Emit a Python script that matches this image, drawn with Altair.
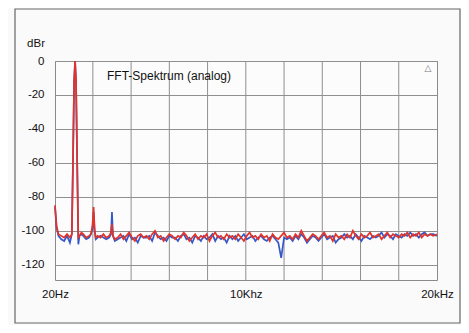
import altair as alt
import pandas as pd

# ---- data (frequency in kHz, level in dBr) ----
low_freq_khz = [0.02, 0.1, 0.2, 0.35, 0.5, 0.65, 0.8, 0.9, 0.96, 1.02, 1.07, 1.12, 1.18,
                1.24, 1.3, 1.4, 1.5, 1.65, 1.8, 1.9, 1.98, 2.04, 2.09, 2.15, 2.25, 2.4,
                2.55, 2.7, 2.85, 2.95, 3.0, 3.05, 3.15]
low_red_db = [-85, -97, -102, -103, -104, -102, -104, -102, -60, -12, 0, -12, -60,
              -104, -103, -101, -102, -104, -103, -102, -97, -86, -99, -104, -103, -104,
              -102, -104, -103, -101, -96, -103, -105]
low_blue_db = [-86, -98, -103, -105, -106, -103, -107, -102, -60, -12, 0, -12, -60,
               -108, -103, -102, -103, -105, -104, -102, -99, -89, -100, -105, -104, -103,
               -104, -105, -104, -102, -89, -103, -106]

# noise floor: FFT bins from 3.3 kHz every 0.15 kHz up to 19.8 kHz, then 20 kHz
noise_bin_start_khz = 3.3
noise_bin_step_khz = 0.15
noise_red_db = [
    -104, -102, -105, -103, -101, -104, -106, -103, -102, -104,
    -103, -105, -102, -100, -104, -103, -106, -104, -102, -103,
    -105, -103, -104, -101, -103, -106, -104, -102, -105, -103,
    -104, -102, -106, -103, -101, -104, -103, -105, -102, -104,
    -103, -105, -102, -104, -106, -103, -101, -104, -103, -105,
    -102, -104, -103, -106, -102, -104, -105, -103, -101, -104,
    -103, -105, -102, -104, -100, -103, -106, -104, -102, -103,
    -105, -103, -101, -104, -103, -106, -102, -104, -103, -105,
    -102, -104, -100, -103, -105, -102, -104, -103, -101, -104,
    -103, -102, -105, -103, -101, -104, -102, -103, -104, -102,
    -103, -101, -104, -102, -103, -101, -104, -102, -103, -102,
    -103, -102,
]
noise_blue_db = [
    -105, -104, -103, -106, -102, -105, -104, -107, -103, -104,
    -104, -103, -106, -101, -103, -105, -104, -106, -103, -104,
    -104, -106, -103, -102, -105, -104, -107, -103, -104, -106,
    -103, -105, -104, -102, -106, -103, -105, -104, -107, -103,
    -105, -103, -106, -104, -102, -105, -104, -103, -106, -104,
    -103, -105, -106, -104, -103, -105, -107, -116, -104, -105,
    -104, -106, -103, -105, -102, -104, -107, -105, -103, -104,
    -106, -104, -102, -105, -104, -103, -107, -105, -104, -102,
    -104, -103, -105, -102, -104, -106, -103, -104, -105, -103,
    -104, -103, -101, -104, -102, -103, -105, -102, -103, -104,
    -102, -103, -101, -103, -102, -104, -102, -101, -103, -102,
    -102, -103,
]
noise_freq_khz = [round(noise_bin_start_khz + noise_bin_step_khz * k, 2)
                  for k in range(len(noise_red_db) - 1)] + [20.0]

y_ticks = [0, -20, -40, -60, -80, -100, -120]
x_ticks = [0.02, 10, 20]
x_tick_labels = ["20Hz", "10Khz", "20kHz"]
x_grid_khz = [2, 4, 6, 8, 10, 12, 14, 16, 18]

red_df = pd.DataFrame({"f": low_freq_khz + noise_freq_khz, "db": low_red_db + noise_red_db})
blue_df = pd.DataFrame({"f": low_freq_khz + noise_freq_khz, "db": low_blue_db + noise_blue_db})

label_expr = " : ".join(
    f"datum.value == {v} ? '{t}'" for v, t in zip(x_ticks, x_tick_labels)
) + " : ''"

xscale = alt.Scale(domain=[0.02, 20], nice=False, zero=False)
yscale = alt.Scale(domain=[-129, 0], nice=False, zero=False)

FONT = "Liberation Sans"
GRID = "#8f8f8f"

xaxis = alt.Axis(values=x_ticks, labelExpr=label_expr, grid=False, ticks=False, domain=False,
                 labelPadding=8, labelFontSize=11.5, labelFont=FONT, labelColor="#111111",
                 title=None, labelFlush=False, labelOverlap=False)
yaxis = alt.Axis(values=y_ticks, grid=True, gridColor=GRID, gridWidth=1, ticks=False,
                 domain=False, labelPadding=11, labelFontSize=11.5, labelFont=FONT,
                 labelColor="#111111", title=None, labelOverlap=False,
                 labelExpr="toString(datum.value)")

vgrid = alt.Chart(pd.DataFrame({"f": x_grid_khz})).mark_rule(color=GRID, strokeWidth=1).encode(
    x=alt.X("f:Q", scale=xscale, axis=xaxis)
)

blue = alt.Chart(blue_df).mark_line(color="#3358c8", strokeWidth=1.7).encode(
    x=alt.X("f:Q", scale=xscale, axis=xaxis),
    y=alt.Y("db:Q", scale=yscale, axis=yaxis),
)
red = alt.Chart(red_df).mark_line(color="#e2322a", strokeWidth=1.7).encode(
    x=alt.X("f:Q", scale=xscale, axis=xaxis),
    y=alt.Y("db:Q", scale=yscale, axis=yaxis),
)

one = pd.DataFrame({"a": [0]})
title_txt = alt.Chart(one).mark_text(text="FFT-Spektrum (analog)", align="left", baseline="middle",
                                     fontSize=12, font=FONT, color="#111111").encode(
    x=alt.value(52), y=alt.value(15))
dbr_txt = alt.Chart(one).mark_text(text="dBr", align="right", baseline="middle",
                                   fontSize=11.5, font=FONT, color="#111111").encode(
    x=alt.value(-10), y=alt.value(-17))
tri_txt = alt.Chart(one).mark_text(text="△", align="center", baseline="middle",
                                   fontSize=9, font="DejaVu Sans", color="#777777").encode(
    x=alt.value(373), y=alt.value(7))
frame = alt.Chart(one).mark_rect(fill=None, stroke="#666666", strokeWidth=1.2).encode(
    x=alt.value(-40), x2=alt.value(405), y=alt.value(-52), y2=alt.value(262))

chart = alt.layer(vgrid, blue, red, title_txt, dbr_txt, tri_txt, frame).properties(
    width=382, height=219,
    autosize="none",
    padding={"left": 47, "top": 53, "right": 24, "bottom": 45},
    background="#fafafa",
).configure_view(stroke="#8a8a8a", strokeWidth=1, fill="#fcfcfc")

chart.save("out.html", embed_options={"renderer": "svg", "actions": False})
